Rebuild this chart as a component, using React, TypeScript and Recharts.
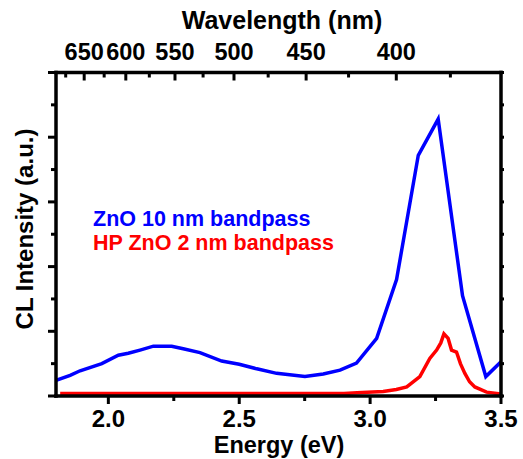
import React from 'react';
import { LineChart, Line, XAxis, YAxis, Legend } from 'recharts';

// ZnO 10 nm bandpass (blue)
const blueEnergy = [1.8, 1.854, 1.892, 1.975, 2.038, 2.076, 2.121, 2.172, 2.242, 2.286, 2.35, 2.433, 2.5, 2.567, 2.643, 2.751, 2.821, 2.885, 2.948, 3.025, 3.101, 3.184, 3.26, 3.353, 3.442, 3.5];
const blueValue = [0.24, 0.32, 0.39, 0.5, 0.63, 0.66, 0.71, 0.77, 0.77, 0.73, 0.67, 0.54, 0.49, 0.42, 0.35, 0.3, 0.34, 0.4, 0.51, 0.89, 1.8, 3.72, 4.28, 1.55, 0.3, 0.53];

// HP ZnO 2 nm bandpass (red)
const redEnergy = [1.816, 2.0, 2.5, 2.9, 2.95, 3.01, 3.05, 3.1, 3.14, 3.19, 3.228, 3.254, 3.27, 3.282, 3.298, 3.311, 3.33, 3.345, 3.362, 3.38, 3.4, 3.445, 3.5];
const redValue = [0.04, 0.04, 0.04, 0.04, 0.05, 0.06, 0.07, 0.1, 0.14, 0.3, 0.58, 0.71, 0.82, 0.96, 0.89, 0.71, 0.68, 0.5, 0.35, 0.22, 0.14, 0.06, 0.03];

const energyTicks = [2.0, 2.25, 2.5, 2.75, 3.0, 3.25, 3.5];
const wavelengthTicks = [675, 650, 625, 600, 575, 550, 525, 500, 475, 450, 425, 400, 375];
const intensityTicks = [0, 0.5, 1, 1.5, 2, 2.5, 3, 3.5, 4, 4.5, 5];

const blueData = blueEnergy.map((e, i) => ({ e, v: blueValue[i] }));
const redData = redEnergy.map((e, i) => ({ e, v: redValue[i] }));
const topTicks = wavelengthTicks.map((l) => 1240 / l);

const FONT = '"Liberation Sans", Arial, Helvetica, sans-serif';
const isHalf = (v: number) => Math.abs(v * 2 - Math.round(v * 2)) < 1e-6;

const BottomTick = (props: any) => {
  const { x, y, payload } = props;
  const major = isHalf(payload.value);
  return (
    <g>
      <line x1={x} x2={x} y1={y} y2={y + (major ? 8 : 5)} stroke="#000" strokeWidth={3} />
      {major && (
        <text x={x} y={y + 31} textAnchor="middle" fontFamily={FONT} fontWeight="bold" fontSize={24} fill="#000">
          {payload.value.toFixed(1)}
        </text>
      )}
    </g>
  );
};

const TopTick = (props: any) => {
  const { x, y, payload } = props;
  const lambda = Math.round(1240 / payload.value);
  const major = lambda % 50 === 0;
  return (
    <g>
      <line x1={x} x2={x} y1={y} y2={y + (major ? 8 : 5)} stroke="#000" strokeWidth={3} />
      {major && (
        <text x={x} y={y - 13} textAnchor="middle" fontFamily={FONT} fontWeight="bold" fontSize={23.5} fill="#000">
          {lambda}
        </text>
      )}
    </g>
  );
};

const LeftTick = (props: any) => {
  const { x, y, payload } = props;
  const major = Number.isInteger(payload.value);
  return <line x1={x} x2={x - (major ? 8 : 5)} y1={y} y2={y} stroke="#000" strokeWidth={3} />;
};

const RightTick = (props: any) => {
  const { x, y } = props;
  return <line x1={x} x2={x + 3} y1={y} y2={y} stroke="#000" strokeWidth={3} />;
};

const axisLine = { stroke: '#000', strokeWidth: 3.5, strokeLinecap: 'square' as const };

const LegendContent = () => (
  <div style={{ fontFamily: FONT, fontWeight: 'bold', fontSize: 21.5, lineHeight: '24px' }}>
    <div style={{ color: '#0000ff', whiteSpace: 'nowrap' }}>ZnO 10 nm bandpass</div>
    <div style={{ color: '#ff0000', whiteSpace: 'nowrap' }}>HP ZnO 2 nm bandpass</div>
  </div>
);

export default function App() {
  return (
    <div style={{ position: 'absolute', left: 0, top: 0, width: 523, height: 459, background: '#fff' }}>
      <LineChart width={523} height={459} margin={{ top: 42.5, right: 12, bottom: 33, left: 26 }}>
        <XAxis
          xAxisId="bottom"
          type="number"
          dataKey="e"
          domain={[1.8, 3.5]}
          ticks={energyTicks}
          interval={0}
          allowDataOverflow
          height={30}
          tickSize={0}
          tickMargin={0}
          tickLine={false}
          axisLine={axisLine}
          tick={BottomTick}
          label={() => (
            <text x={279} y={453} textAnchor="middle" fontFamily={FONT} fontWeight="bold" fontSize={23.5} fill="#000">
              Energy (eV)
            </text>
          )}
        />
        <XAxis
          xAxisId="top"
          orientation="top"
          type="number"
          dataKey="e"
          domain={[1.8, 3.5]}
          ticks={topTicks}
          interval={0}
          allowDataOverflow
          height={30}
          tickSize={0}
          tickMargin={0}
          tickLine={false}
          axisLine={axisLine}
          tick={TopTick}
          label={() => (
            <text x={282} y={29} textAnchor="middle" fontFamily={FONT} fontWeight="bold" fontSize={25} fill="#000">
              Wavelength (nm)
            </text>
          )}
        />
        <YAxis
          yAxisId="left"
          type="number"
          domain={[0, 5]}
          ticks={intensityTicks}
          interval={0}
          allowDataOverflow
          width={30}
          tickSize={0}
          tickMargin={0}
          tickLine={false}
          axisLine={axisLine}
          tick={LeftTick}
          label={() => (
            <text
              x={33}
              y={229}
              transform="rotate(-90 33 229)"
              textAnchor="middle"
              fontFamily={FONT}
              fontWeight="bold"
              fontSize={24}
              fill="#000"
            >
              CL Intensity (a.u.)
            </text>
          )}
        />
        <YAxis
          yAxisId="right"
          orientation="right"
          type="number"
          domain={[0, 5]}
          ticks={intensityTicks}
          interval={0}
          allowDataOverflow
          width={10}
          tickSize={0}
          tickMargin={0}
          tickLine={false}
          axisLine={axisLine}
          tick={RightTick}
        />
        <Legend
          layout="horizontal"
          verticalAlign="middle"
          align="center"
          content={LegendContent}
          wrapperStyle={{ position: 'absolute', top: 207, left: 93, width: 'auto' }}
        />
        <Line
          xAxisId="bottom"
          yAxisId="left"
          data={blueData}
          dataKey="v"
          type="linear"
          stroke="#0000ff"
          strokeWidth={3.5}
          dot={false}
          isAnimationActive={false}
        />
        <Line
          xAxisId="bottom"
          yAxisId="left"
          data={redData}
          dataKey="v"
          type="linear"
          stroke="#ff0000"
          strokeWidth={3.5}
          dot={false}
          isAnimationActive={false}
        />
      </LineChart>
    </div>
  );
}
